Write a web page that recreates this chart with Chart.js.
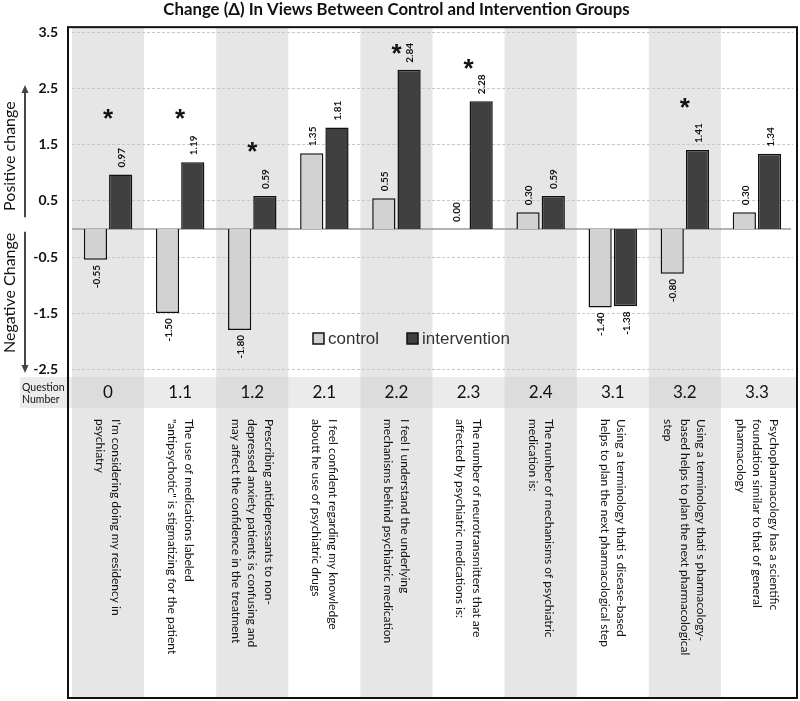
<!DOCTYPE html>
<html>
<head>
<meta charset="utf-8">
<title>Change in views</title>
<script src="https://cdn.jsdelivr.net/npm/chart.js@4"></script>
<style>
  html, body { margin: 0; padding: 0; background: #fff; }
</style>
</head>
<body>
<canvas id="changeChart" width="800" height="701"></canvas>
<script>
// data
const questionNumbers = ['0', '1.1', '1.2', '2.1', '2.2', '2.3', '2.4', '3.1', '3.2', '3.3'];
const controlValues = [-0.55, -1.50, -1.80, 1.35, 0.55, 0.00, 0.30, -1.40, -0.80, 0.30];
const interventionValues = [0.97, 1.19, 0.59, 1.81, 2.84, 2.28, 0.59, -1.38, 1.41, 1.34];
// height (in axis units) of the significance stars, null = no star
const starLevels = [2.09, 2.09, 1.5, null, 3.25, 2.98, null, null, 2.29, null];
const yTickValues = [3.5, 2.5, 1.5, 0.5, -0.5, -1.5, -2.5];
const questionTexts = [
    ['I’m considering doing my residency in', 'psychiatry'],
    ['The use of medications labeled', '"antipsychotic" is stigmatizing for the patient'],
    ['Prescribing antidepressants to non-', 'depressed anxiety patients is confusing and', 'may affect the confidence in the treatment'],
    ['I feel confident regarding my knowledge', 'aboutt he use of psychiatric drugs'],
    ['I feel I understand the underlying', 'mechanisms behind psychiatric medication'],
    ['The number of neurotransmitters that are', 'affected by psychiatric medications is:'],
    ['The number of mechanisms of psychiatric', 'medication is:'],
    ['Using a terminology thati s disease-based', 'helps to plan the next pharmacological step'],
    ['Using a terminology thati s pharmacology-', 'based helps to plan the next pharmacological', 'step'],
    ['Psychopharmacology has a scientific', 'foundation similar to that of general', 'pharmacology']
];

const BAND_GREY = '#e6e6e6';
const ROW_H = 31;       // question number row
const FRAME_BOTTOM = 698;

const decorPlugin = {
    id: 'decor',
    beforeDraw(chart) {
        const { ctx, chartArea } = chart;
        const x = chart.scales.x;
        const half = (x.getPixelForValue(1) - x.getPixelForValue(0)) / 2;
        ctx.save();
        ctx.fillStyle = '#ebebeb';
        ctx.fillRect(20, chartArea.bottom, chartArea.right + 4 - 20, ROW_H);
        questionNumbers.forEach((q, i) => {
            if (i % 2 !== 0) return;
            const left = x.getPixelForValue(i) - half;
            ctx.fillStyle = BAND_GREY;
            ctx.fillRect(left, chartArea.top, half * 2, chartArea.bottom - chartArea.top);
            ctx.fillRect(left, chartArea.bottom + ROW_H, half * 2, FRAME_BOTTOM - chartArea.bottom - ROW_H);
            ctx.fillStyle = '#dcdcdc';
            ctx.fillRect(left, chartArea.bottom, half * 2, ROW_H);
        });
        ctx.restore();
    },
    beforeDatasetsDraw(chart) {
        const { ctx, chartArea } = chart;
        const y0 = chart.scales.y.getPixelForValue(0);
        ctx.save();
        ctx.strokeStyle = '#9a9a9a';
        ctx.lineWidth = 1.5;
        ctx.beginPath();
        ctx.moveTo(chartArea.left, y0);
        ctx.lineTo(chartArea.right - 2, y0);
        ctx.stroke();
        ctx.restore();
    },
    afterDatasetsDraw(chart) {
        const { ctx, chartArea } = chart;
        const x = chart.scales.x;
        const y = chart.scales.y;
        ctx.save();

        // value labels
        ctx.fillStyle = '#111';
        ctx.font = 'bold 10px Lato';
        ctx.textBaseline = 'middle';
        chart.data.datasets.forEach((ds, d) => {
            chart.getDatasetMeta(d).data.forEach((bar, i) => {
                const v = ds.data[i];
                ctx.save();
                if (v >= 0) {
                    ctx.translate(bar.x + 1, bar.y - 7);
                    ctx.textAlign = 'left';
                } else {
                    ctx.translate(bar.x + 1, bar.y + 5);
                    ctx.textAlign = 'right';
                }
                ctx.rotate(-Math.PI / 2);
                ctx.fillText(v.toFixed(2), 0, 0);
                ctx.restore();
            });
        });

        // significance stars
        ctx.font = 'bold 26px "Liberation Sans"';
        ctx.textAlign = 'center';
        ctx.textBaseline = 'alphabetic';
        starLevels.forEach((lvl, i) => {
            if (lvl === null) return;
            ctx.fillText('*', x.getPixelForValue(i), y.getPixelForValue(lvl) + 15);
        });

        // legend inside the plot
        let lx = chartArea.left + 241;
        const ly = chartArea.bottom - 38;
        ctx.font = '17px "Liberation Sans"';
        ctx.textAlign = 'left';
        ctx.textBaseline = 'middle';
        chart.data.datasets.forEach(ds => {
            ctx.fillStyle = ds.backgroundColor;
            ctx.fillRect(lx, ly - 6, 11, 11);
            ctx.strokeStyle = '#111';
            ctx.lineWidth = 1.5;
            ctx.strokeRect(lx, ly - 6, 11, 11);
            ctx.fillStyle = '#333';
            ctx.fillText(ds.label, lx + 15, ly);
            lx += 94;
        });

        // left annotations with arrows
        ctx.strokeStyle = '#444';
        ctx.fillStyle = '#444';
        ctx.lineWidth = 2;
        const ax = 25;
        const upTop = y.getPixelForValue(2.57), upBot = y.getPixelForValue(0.21);
        const dnTop = y.getPixelForValue(-0.05), dnBot = y.getPixelForValue(-2.57);
        ctx.beginPath();
        ctx.moveTo(ax, upBot); ctx.lineTo(ax, upTop + 6);
        ctx.moveTo(ax, dnTop); ctx.lineTo(ax, dnBot - 6);
        ctx.stroke();
        ctx.beginPath();
        ctx.moveTo(ax, upTop); ctx.lineTo(ax - 3.5, upTop + 8); ctx.lineTo(ax + 3.5, upTop + 8); ctx.closePath();
        ctx.moveTo(ax, dnBot); ctx.lineTo(ax - 3.5, dnBot - 8); ctx.lineTo(ax + 3.5, dnBot - 8); ctx.closePath();
        ctx.fill();

        ctx.fillStyle = '#111';
        ctx.font = '16px Lato';
        ctx.textAlign = 'center';
        ctx.textBaseline = 'middle';
        [['Positive change', 1.3], ['Negative Change', -1.14]].forEach(([t, v]) => {
            ctx.save();
            ctx.translate(10, y.getPixelForValue(v));
            ctx.rotate(-Math.PI / 2);
            ctx.fillText(t, 0, 0);
            ctx.restore();
        });

        // question row caption
        ctx.font = '10.5px Lato';
        ctx.textAlign = 'left';
        ctx.fillText('Question', 22, chartArea.bottom + 11);
        ctx.fillText('Number', 22, chartArea.bottom + 23);

        // question texts, rotated
        ctx.font = '12px Lato';
        ctx.fillStyle = '#111';
        const lh = 16.5;
        questionTexts.forEach((lines, i) => {
            const cx = x.getPixelForValue(i);
            ctx.save();
            ctx.translate(cx + (lines.length - 1) * lh / 2, chartArea.bottom + ROW_H + 11);
            ctx.rotate(Math.PI / 2);
            lines.forEach((ln, k) => ctx.fillText(ln, 0, k * lh));
            ctx.restore();
        });

        // frame
        ctx.strokeStyle = '#111';
        ctx.lineWidth = 2;
        ctx.strokeRect(chartArea.left - 4, chartArea.top, chartArea.right + 4 - (chartArea.left - 4), FRAME_BOTTOM - chartArea.top);
        ctx.restore();
    }
};

new Chart(document.getElementById('changeChart').getContext('2d'), {
    type: 'bar',
    data: {
        labels: questionNumbers,
        datasets: [{
            label: 'control',
            data: controlValues,
            backgroundColor: '#d2d2d2',
            borderColor: '#111',
            borderWidth: 1.5,
            categoryPercentage: 0.7,
            barPercentage: 0.92
        }, {
            label: 'intervention',
            data: interventionValues,
            backgroundColor: '#404040',
            borderColor: '#111',
            borderWidth: 1.5,
            categoryPercentage: 0.7,
            barPercentage: 0.92
        }]
    },
    options: {
        responsive: false,
        animation: false,
        layout: { padding: { right: 7 } },
        plugins: {
            legend: { display: false },
            tooltip: { enabled: false },
            title: {
                display: true,
                text: 'Change (Δ) In Views Between Control and Intervention Groups',
                font: { family: 'Lato', size: 16.8, weight: 'bold' },
                color: '#111',
                padding: { top: 0, bottom: 7 }
            }
        },
        scales: {
            x: {
                grid: { display: false, drawTicks: false },
                border: { display: false },
                ticks: {
                    font: { family: 'Lato', size: 17 },
                    color: '#111',
                    padding: 5,
                    maxRotation: 0,
                    autoSkip: false
                },
                afterFit(scale) { scale.height = 324; }
            },
            y: {
                min: -2.64,
                max: 3.6,
                afterBuildTicks(scale) {
                    scale.ticks = yTickValues.map(v => ({ value: v }));
                },
                ticks: {
                    callback: v => v.toFixed(1),
                    font: { family: 'Lato', size: 14, weight: 'bold' },
                    color: '#111',
                    padding: 14
                },
                grid: { color: '#c8c8c8', lineWidth: 1, drawTicks: false },
                border: { display: false, dash: [3, 2] },
                afterFit(scale) { scale.width = 72; }
            }
        }
    },
    plugins: [decorPlugin]
});
</script>
</body>
</html>
